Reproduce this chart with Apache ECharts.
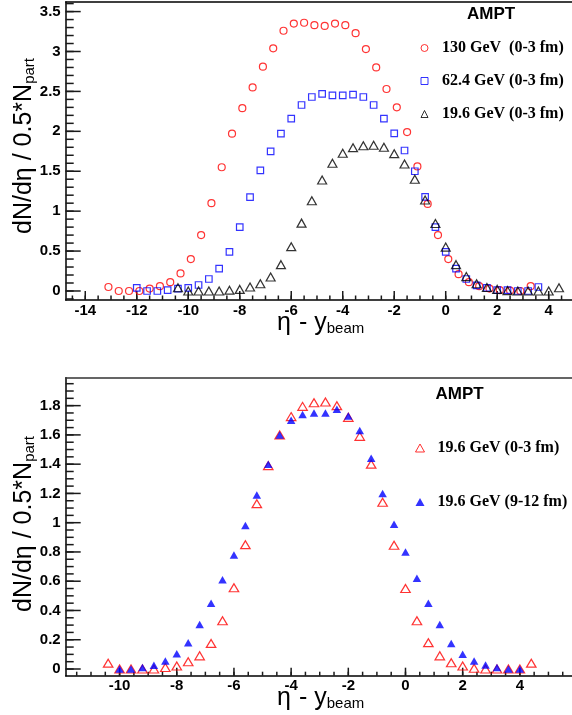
<!DOCTYPE html>
<html><head><meta charset="utf-8">
<script src="https://cdn.jsdelivr.net/npm/echarts@6/dist/echarts.min.js"></script>
<style>html,body{margin:0;padding:0;background:#fff}#c{width:572px;height:715px}</style>
</head><body><div id="c"></div>
<script>
// ---- data ----
const eta130 = [-13.1,-12.7,-12.3,-11.9,-11.5,-11.1,-10.7,-10.3,-9.9,-9.5,-9.1,-8.7,-8.3,-7.9,-7.5,-7.1,-6.7,-6.3,-5.9,-5.5,-5.1,-4.7,-4.3,-3.9,-3.5,-3.1,-2.7,-2.3,-1.9,-1.5,-1.1,-0.7,-0.3,0.1,0.5,0.9,1.3,1.7,2.1,2.5,2.9,3.3];
const dn130  = [0.05,0.00,0.00,0.00,0.03,0.06,0.11,0.22,0.40,0.70,1.10,1.55,1.97,2.29,2.55,2.81,3.04,3.26,3.35,3.36,3.33,3.32,3.35,3.33,3.23,3.03,2.80,2.53,2.30,1.99,1.56,1.09,0.70,0.40,0.21,0.11,0.06,0.03,0.01,0.005,0.00,0.06];

const eta624 = [-12.0,-11.6,-11.2,-10.8,-10.4,-10.0,-9.6,-9.2,-8.8,-8.4,-8.0,-7.6,-7.2,-6.8,-6.4,-6.0,-5.6,-5.2,-4.8,-4.4,-4.0,-3.6,-3.2,-2.8,-2.4,-2.0,-1.6,-1.2,-0.8,-0.4,0.0,0.4,0.8,1.2,1.6,2.0,2.4,2.8,3.2,3.6];
const dn624  = [0.04,0.00,0.00,0.01,0.03,0.04,0.075,0.15,0.28,0.49,0.80,1.175,1.51,1.75,1.97,2.16,2.33,2.43,2.47,2.45,2.45,2.46,2.43,2.33,2.16,1.975,1.76,1.50,1.18,0.80,0.49,0.28,0.15,0.07,0.04,0.01,0.01,0.00,0.00,0.05];

const eta196c = [-10.4,-10.0,-9.6,-9.2,-8.8,-8.4,-8.0,-7.6,-7.2,-6.8,-6.4,-6.0,-5.6,-5.2,-4.8,-4.4,-4.0,-3.6,-3.2,-2.8,-2.4,-2.0,-1.6,-1.2,-0.8,-0.4,0.0,0.4,0.8,1.2,1.6,2.0,2.4,2.8,3.2,3.6,4.0,4.4];
const dn196c  = [0.04,0.00,0.00,0.00,0.00,0.01,0.02,0.05,0.09,0.175,0.33,0.555,0.85,1.13,1.39,1.60,1.725,1.795,1.82,1.825,1.80,1.72,1.59,1.40,1.14,0.846,0.55,0.33,0.18,0.09,0.043,0.02,0.005,0.00,0.00,0.00,0.00,0.04];

const eta196p = [-10.0,-9.6,-9.2,-8.8,-8.4,-8.0,-7.6,-7.2,-6.8,-6.4,-6.0,-5.6,-5.2,-4.8,-4.4,-4.0,-3.6,-3.2,-2.8,-2.4,-2.0,-1.6,-1.2,-0.8,-0.4,0.0,0.4,0.8,1.2,1.6,2.0,2.4,2.8,3.2,3.6,4.0];
const dn196p  = [0.00,0.00,0.01,0.025,0.055,0.105,0.18,0.305,0.45,0.61,0.78,0.98,1.19,1.40,1.60,1.70,1.74,1.75,1.75,1.775,1.73,1.63,1.44,1.20,0.99,0.80,0.62,0.45,0.305,0.175,0.10,0.055,0.028,0.01,0.00,0.00];

// tick labels
const topXTicks = [-14,-12,-10,-8,-6,-4,-2,0,2,4];
const topYTicks = [0,0.5,1,1.5,2,2.5,3,3.5];
const botXTicks = [-10,-8,-6,-4,-2,0,2,4];
const botYTicks = [0,0.2,0.4,0.6,0.8,1,1.2,1.4,1.6,1.8];

const legendTop = ['130 GeV  (0-3 fm)','62.4 GeV (0-3 fm)','19.6 GeV (0-3 fm)'];
const legendBot = ['19.6 GeV (0-3 fm)','19.6 GeV (9-12 fm)'];

// ---- layout ----
const TOPX = [-14.76, 4.905], TOPY = [-0.113, 3.62];
const BOTX = [-11.885, 5.824], BOTY = [-0.0458, 1.991];

function steps(a, b, s) { const r = []; for (let v = a; v <= b + 1e-9; v += s) r.push(Math.round(v * 1000) / 1000); return r; }
function inRange(arr, r) { return arr.filter(v => v > r[0] && v < r[1]); }

const SANS = 'Liberation Sans';
const labelStyle = { fontFamily: SANS, fontWeight: 'bold', fontSize: 15, color: '#000' };
const tickColor = '#1a1a1a';
const TICK_W = 1.5;

function xAxes(grid, range, major, frameColor) {
  return [
    { type: 'value', gridIndex: grid, position: 'bottom', min: range[0], max: range[1],
      axisLine: { show: true, onZero: false, lineStyle: { color: '#000', width: 1.5 } },
      axisTick: { show: false },
      axisLabel: { show: true, margin: 3, customValues: major, ...labelStyle },
      splitLine: { show: false } },
    { type: 'value', gridIndex: grid, position: 'top', min: range[0], max: range[1],
      axisLine: { show: true, onZero: false, lineStyle: { color: frameColor, width: 1.5 } },
      axisTick: { show: false }, axisLabel: { show: false }, splitLine: { show: false } }
  ];
}
function yAxis(grid, range, major) {
  return { type: 'value', gridIndex: grid, position: 'left', min: range[0], max: range[1],
    axisLine: { show: true, onZero: false, lineStyle: { color: '#000', width: 1.5 } },
    axisTick: { show: false },
    axisLabel: { show: true, margin: 5, customValues: major, ...labelStyle },
    splitLine: { show: false } };
}

// ROOT-style inside ticks, positioned through the axes' own scales
function tickSeries(xIdx, yIdx, dir, values, len, xr, yr) {
  const data = dir === 'x' ? inRange(values, xr).map(v => [v, yr[0]]) : inRange(values, yr).map(v => [xr[0], v]);
  return {
    type: 'custom', xAxisIndex: xIdx, yAxisIndex: yIdx, silent: true, clip: false, z: 1,
    data: data,
    renderItem: (params, api) => {
      const p = api.coord([api.value(0), api.value(1)]);
      if (dir === 'x') {
        return { type: 'line', shape: { x1: p[0], y1: p[1], x2: p[0], y2: p[1] - len }, style: { stroke: tickColor, lineWidth: TICK_W } };
      }
      return { type: 'line', shape: { x1: p[0], y1: p[1], x2: p[0] + len, y2: p[1] }, style: { stroke: tickColor, lineWidth: TICK_W } };
    }
  };
}

const pts = (xs, ys) => xs.map((x, i) => [x, ys[i]]);
const hollow = c => ({ color: 'rgba(0,0,0,0)', borderColor: c, borderWidth: 1.2 });

const names = { s130: legendTop[0], s624: legendTop[1], s196: legendTop[2], b196c: legendBot[0], b196p: legendBot[1] };

const titleRich = {
  m: { fontFamily: SANS, fontSize: 25, lineHeight: 25, color: '#000' },
  e: { fontFamily: SANS, fontSize: 25, lineHeight: 25, width: 22, color: '#000' },
  s: { fontFamily: SANS, fontSize: 15, lineHeight: 12, verticalAlign: 'bottom', color: '#000' }
};

const legendText = { fontFamily: 'Liberation Serif', fontWeight: 'bold', fontSize: 16, lineHeight: 16, color: '#000' };

const option = {
  animation: false,
  backgroundColor: '#fff',
  grid: [
    { left: 65.7, right: 0, top: 2, bottom: 415, containLabel: false },
    { left: 65.7, right: 0, top: 377.7, bottom: 39.3, containLabel: false }
  ],
  xAxis: [
    ...xAxes(0, TOPX, topXTicks, '#000'),
    ...xAxes(1, BOTX, botXTicks, '#333')
  ],
  yAxis: [
    yAxis(0, TOPY, topYTicks),
    yAxis(1, BOTY, botYTicks)
  ],
  legend: [
    { data: ['s130', 's624', 's196'], orient: 'vertical', left: 420.5, top: 40, itemGap: 17, padding: 0,
      itemWidth: 7, itemHeight: 7, selectedMode: false, formatter: n => names[n],
      itemStyle: { borderWidth: 1 },
      textStyle: { ...legendText, padding: [0, 0, 0, 9] } },
    { data: ['b196c', 'b196p'], orient: 'vertical', left: 415, top: 440, itemGap: 38, padding: 0,
      itemWidth: 9, itemHeight: 8, selectedMode: false, formatter: n => names[n],
      itemStyle: { borderWidth: 1 },
      textStyle: { ...legendText, padding: [0, 0, 0, 8] } }
  ],
  graphic: [
    { type: 'text', left: 491 - 24, top: 6, style: { text: 'AMPT', font: 'bold 17px "Liberation Sans"', fill: '#000' } },
    { type: 'text', left: 459.5 - 24, top: 386, style: { text: 'AMPT', font: 'bold 17px "Liberation Sans"', fill: '#000' } },
    { type: 'text', x: 37, y: 58, rotation: Math.PI / 2,
      style: { text: '{m|dN/dη / 0.5*N}{s|part}', rich: titleRich, align: 'right', verticalAlign: 'bottom' } },
    { type: 'text', x: 37, y: 436, rotation: Math.PI / 2,
      style: { text: '{m|dN/dη / 0.5*N}{s|part}', rich: titleRich, align: 'right', verticalAlign: 'bottom' } },
    { type: 'text', x: 277, y: 336,
      style: { text: '{e|η}{m|- y}{s|beam}', rich: titleRich, align: 'left', verticalAlign: 'bottom' } },
    { type: 'text', x: 277, y: 711,
      style: { text: '{e|η}{m|- y}{s|beam}', rich: titleRich, align: 'left', verticalAlign: 'bottom' } }
  ],
  series: [
    tickSeries(0, 0, 'x', topXTicks, 9, TOPX, TOPY),
    tickSeries(0, 0, 'x', steps(-15, 5, 0.5), 4.5, TOPX, TOPY),
    tickSeries(0, 0, 'y', topYTicks, 15, TOPX, TOPY),
    tickSeries(0, 0, 'y', steps(-0.1, 3.6, 0.1), 8, TOPX, TOPY),
    tickSeries(2, 1, 'x', botXTicks, 8, BOTX, BOTY),
    tickSeries(2, 1, 'x', steps(-12, 6, 0.5), 4, BOTX, BOTY),
    tickSeries(2, 1, 'y', botYTicks, 15, BOTX, BOTY),
    tickSeries(2, 1, 'y', steps(0, 1.95, 0.05), 8, BOTX, BOTY),
    { name: 's130', type: 'scatter', xAxisIndex: 0, yAxisIndex: 0, data: pts(eta130, dn130),
      symbol: 'circle', symbolSize: 7, itemStyle: hollow('#ff0000') },
    { name: 's624', type: 'scatter', xAxisIndex: 0, yAxisIndex: 0, data: pts(eta624, dn624),
      symbol: 'rect', symbolSize: 6.5, itemStyle: hollow('#0000ff') },
    { name: 's196', type: 'scatter', xAxisIndex: 0, yAxisIndex: 0, data: pts(eta196c, dn196c),
      symbol: 'triangle', symbolSize: [9, 8], itemStyle: hollow('#000000') },
    { name: 'b196c', type: 'scatter', xAxisIndex: 2, yAxisIndex: 1, data: pts(eta196c, dn196c),
      symbol: 'triangle', symbolSize: [9.5, 8], itemStyle: hollow('#ff0000') },
    { name: 'b196p', type: 'scatter', xAxisIndex: 2, yAxisIndex: 1, data: pts(eta196p, dn196p),
      symbol: 'triangle', symbolSize: [8.5, 7.5], itemStyle: { color: '#0000ff' } }
  ]
};

const chart = echarts.init(document.getElementById('c'), null, { renderer: 'canvas' });
chart.setOption(option);
</script>
</body></html>
